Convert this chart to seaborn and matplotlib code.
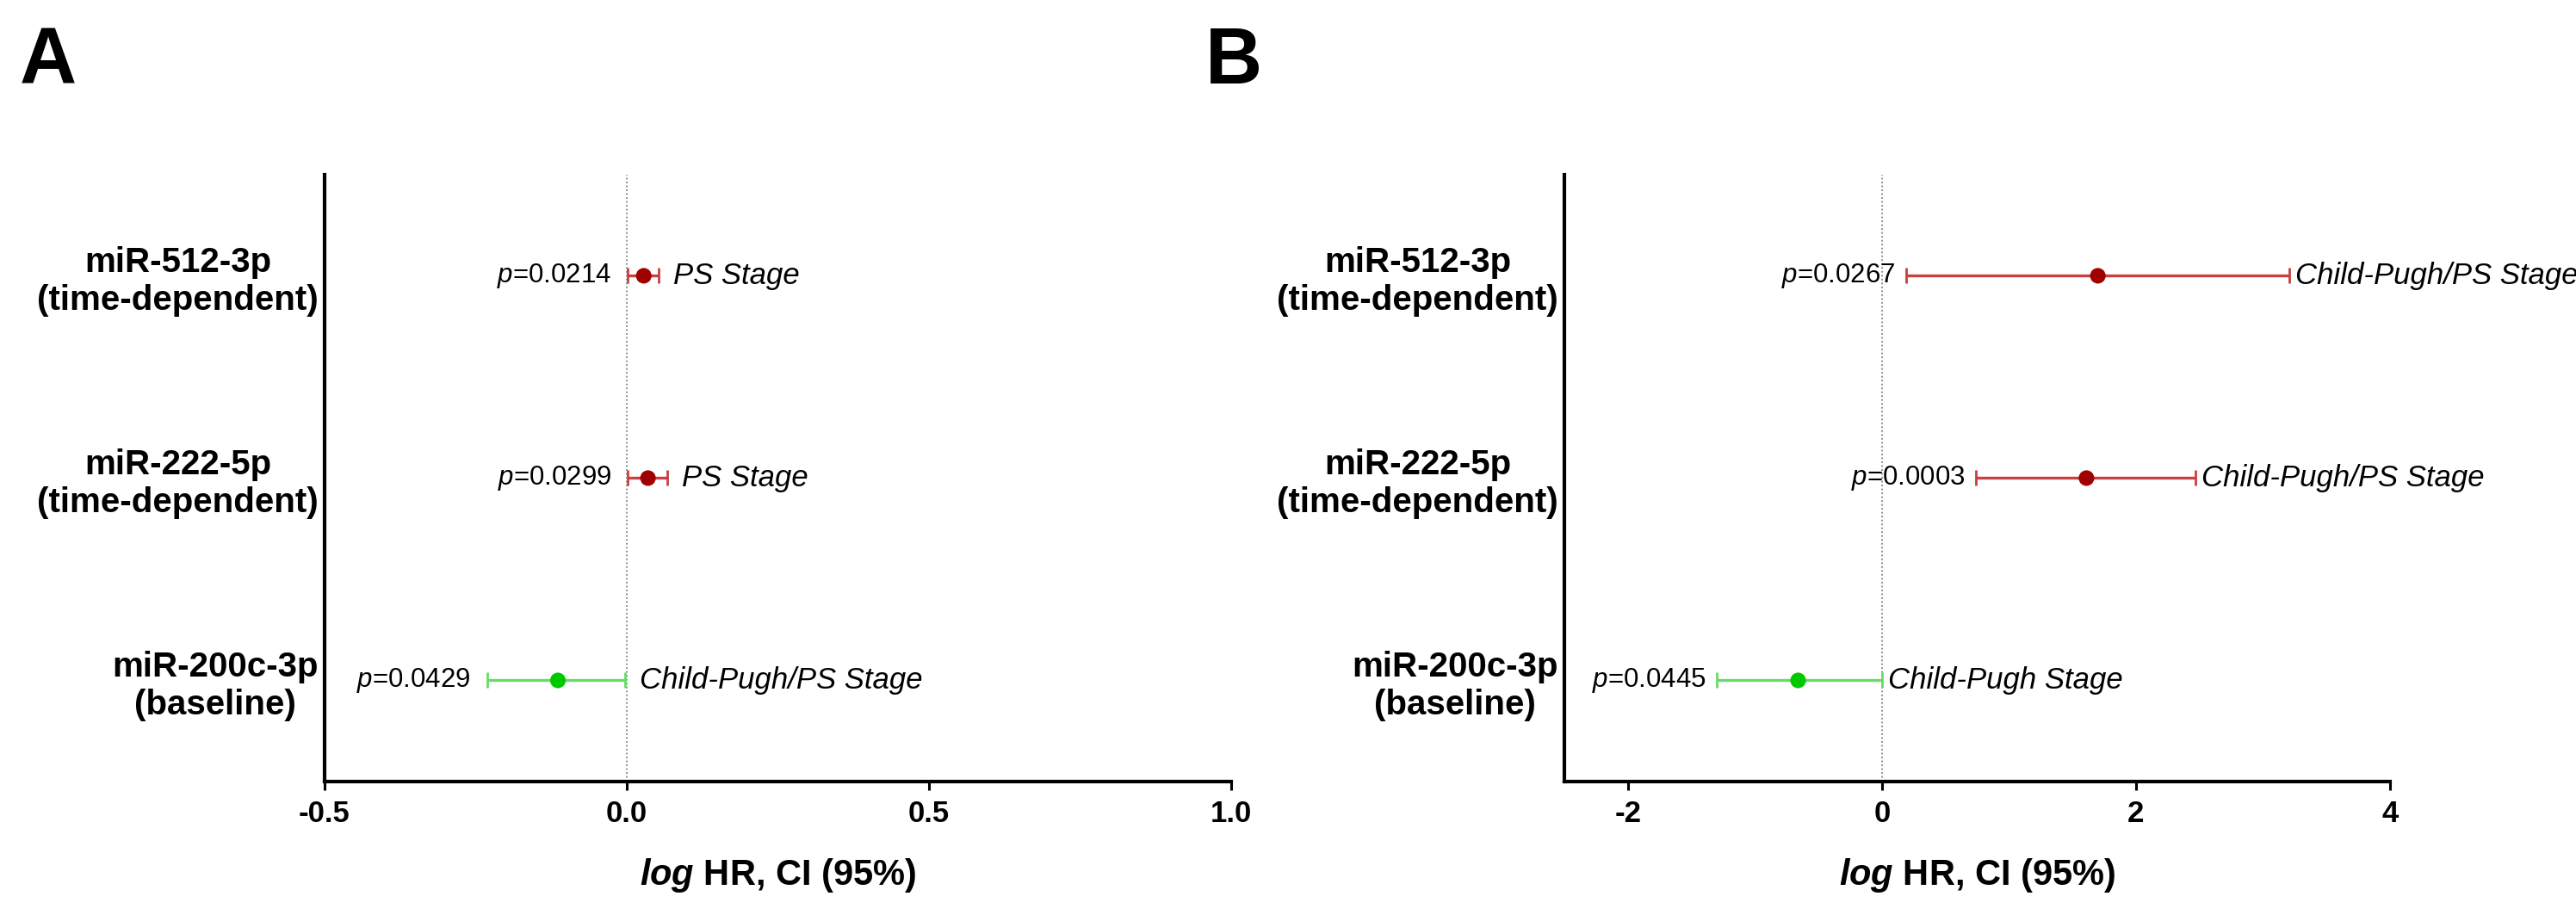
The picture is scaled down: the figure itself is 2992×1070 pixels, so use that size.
import matplotlib
matplotlib.use('Agg')
import matplotlib.pyplot as plt
import seaborn as sns
import pandas as pd

# rows, top to bottom
mirnas = ['miR-512-3p\n(time-dependent)', 'miR-222-5p\n(time-dependent)', 'miR-200c-3p\n(baseline)']
ypos = [2, 1, 0]
kind = ['risk', 'risk', 'protect']

# panel A: log HR with 95% CI
a_hr = [0.028, 0.035, -0.114]
a_lo = [0.002, 0.002, -0.231]
a_hi = [0.053, 0.067, -0.003]
a_p = ['0.0214', '0.0299', '0.0429']
a_stage = ['PS Stage', 'PS Stage', 'Child-Pugh/PS Stage']
a_ticks = [-0.5, 0.0, 0.5, 1.0]
a_ticklabels = ['-0.5', '0.0', '0.5', '1.0']

# panel B
b_hr = [1.70, 1.61, -0.66]
b_lo = [0.19, 0.74, -1.30]
b_hi = [3.21, 2.47, 0.0]
b_p = ['0.0267', '0.0003', '0.0445']
b_stage = ['Child-Pugh/PS Stage', 'Child-Pugh/PS Stage', 'Child-Pugh Stage']
b_ticks = [-2, 0, 2, 4]
b_ticklabels = ['-2', '0', '2', '4']

line_cols = {'risk': '#c8403f', 'protect': '#66dd66'}
dot_cols = {'risk': '#a00000', 'protect': '#00c800'}

sns.set_style('ticks')
plt.rcParams['font.family'] = ['Liberation Sans', 'DejaVu Sans']
for k in ['text.color', 'axes.labelcolor', 'xtick.color', 'ytick.color', 'axes.edgecolor']:
    plt.rcParams[k] = 'black'
plt.rcParams['mathtext.fontset'] = 'custom'
plt.rcParams['mathtext.rm'] = 'Liberation Sans'
plt.rcParams['mathtext.it'] = 'Liberation Sans:italic'
plt.rcParams['mathtext.bf'] = 'Liberation Sans:bold'
plt.rcParams['mathtext.bfit'] = 'Liberation Sans:italic:bold'


def forest(ax, hr, lo, hi, pvals, stages, xlim, ticks, ticklabels, pgap, sgap):
    df = pd.DataFrame({'hr': hr, 'lo': lo, 'hi': hi, 'y': ypos, 'kind': kind,
                       'p': pvals, 'stage': stages})
    ax.axvline(0, color='#808080', ls=(0, (1, 1.5)), lw=1.3, zorder=1)
    for _, r in df.iterrows():
        ax.errorbar(r.hr, r.y, xerr=[[r.hr - r.lo], [r.hi - r.hr]], fmt='none',
                    ecolor=line_cols[r.kind], elinewidth=2.4, capsize=6.5,
                    capthick=2.0, zorder=2)
        ax.annotate(r'$p$=' + r.p, (r.lo, r.y), xytext=(-pgap, 0),
                    textcoords='offset points', ha='right', va='center',
                    fontsize=22.5)
        ax.annotate(r.stage, (r.hi, r.y), xytext=(sgap, 0),
                    textcoords='offset points', ha='left', va='center',
                    fontsize=25, fontstyle='italic')
    sns.scatterplot(data=df, x='hr', y='y', hue='kind', palette=dot_cols, s=170,
                    edgecolor='none', legend=False, ax=ax, zorder=3)
    ax.set_xlim(*xlim)
    ax.set_ylim(-0.5, 2.5)
    ax.set_xticks(ticks, ticklabels)
    ax.set_yticks(ypos, mirnas)
    for t in ax.get_yticklabels():
        t.set_multialignment('center')
        t.set_fontweight('bold')
        t.set_fontsize(29)
        t.set_linespacing(1.2)
    for t in ax.get_xticklabels():
        t.set_fontweight('bold')
        t.set_fontsize(25)
    ax.tick_params(axis='y', length=0, pad=5)
    ax.tick_params(axis='x', length=7, width=2.2, pad=8)
    ax.set_xlabel(r'$\mathbfit{log}$ HR, CI (95%)', fontsize=30,
                  fontweight='bold', labelpad=24)
    ax.set_ylabel('')
    sns.despine(ax=ax)
    for s in ['left', 'bottom']:
        ax.spines[s].set_linewidth(3)


fig = plt.figure(figsize=(29.92, 10.70), dpi=100)
ax_a = fig.add_axes([0.126, 0.1514, 0.352, 0.659])
ax_b = fig.add_axes([0.6073, 0.1514, 0.3205, 0.659])

forest(ax_a, a_hr, a_lo, a_hi, a_p, a_stage, (-0.5, 1.0), a_ticks, a_ticklabels, 14, 12)
forest(ax_b, b_hr, b_lo, b_hi, b_p, b_stage, (-2.5, 4.0), b_ticks, b_ticklabels, 9, 5)

fig.text(0.0077, 0.972, 'A', fontsize=66, fontweight='bold', va='top', ha='left')
fig.text(0.468, 0.972, 'B', fontsize=66, fontweight='bold', va='top', ha='left')

fig.savefig('out.png', dpi=100, facecolor='white')
